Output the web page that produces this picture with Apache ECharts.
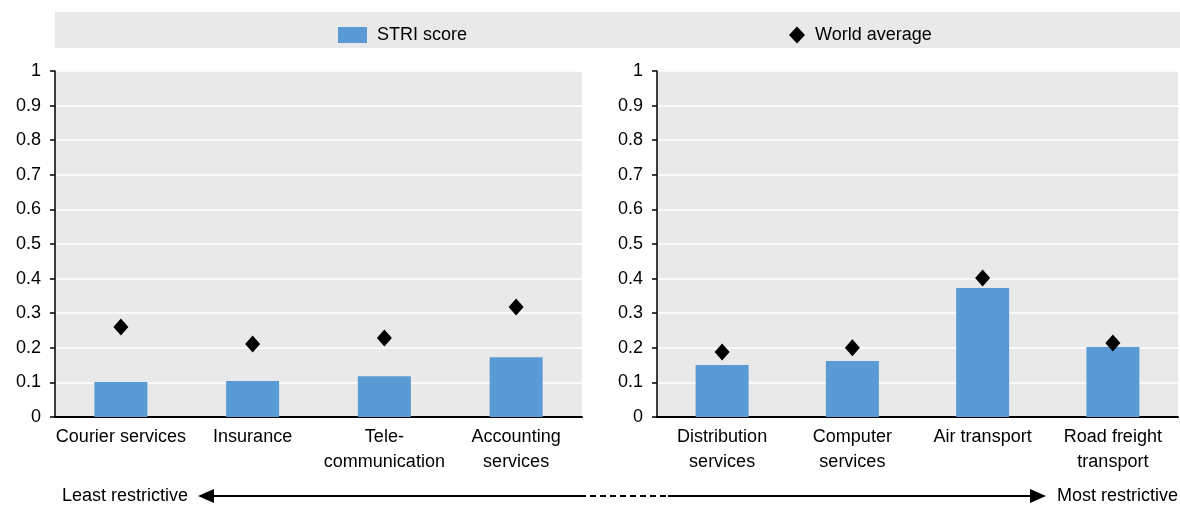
<!DOCTYPE html>
<html>
<head>
<meta charset="utf-8">
<script src="https://cdn.jsdelivr.net/npm/echarts@6/dist/echarts.min.js"></script>
<style>
html,body{margin:0;padding:0;background:#fff;}
#striChart{width:1180px;height:506px;}
</style>
</head>
<body>
<div id="striChart"></div>
<script>
// left panel
var leftCategories = ['Courier services', 'Insurance', 'Tele-\ncommunication', 'Accounting\nservices'];
var leftScore = [0.101, 0.104, 0.118, 0.173];
var leftAvg = [0.26, 0.211, 0.228, 0.318];
// right panel
var rightCategories = ['Distribution\nservices', 'Computer\nservices', 'Air transport', 'Road freight\ntransport'];
var rightScore = [0.15, 0.162, 0.373, 0.202];
var rightAvg = [0.188, 0.2, 0.402, 0.214];
var yTicks = [0, 1, 0.1]; // min, max, interval

var font = '"Liberation Sans Narrow", "Arial Narrow", "Liberation Sans", Arial, sans-serif';
var chart = echarts.init(document.getElementById('striChart'));

function yAxisCfg(idx){
  return {
    type: 'value', gridIndex: idx,
    min: yTicks[0], max: yTicks[1], interval: yTicks[2],
    axisLine: {show: true, lineStyle: {color: '#000', width: 1.5}},
    axisTick: {show: true, length: 5, lineStyle: {color: '#000', width: 1.5}},
    axisLabel: {color: '#000', fontFamily: font, fontSize: 18, margin: 14},
    splitLine: {lineStyle: {color: '#fff', width: 1.5}}
  };
}
function xAxisCfg(idx, data){
  return {
    type: 'category', gridIndex: idx, data: data,
    axisLine: {show: true, lineStyle: {color: '#000', width: 2}},
    axisTick: {show: false},
    axisLabel: {color: '#000', fontFamily: font, fontSize: 18, margin: 8, lineHeight: 25, interval: 0}
  };
}
function barSeries(idx, data){
  return {
    name: 'STRI score', type: 'bar', xAxisIndex: idx, yAxisIndex: idx,
    data: data, barWidth: 53, itemStyle: {color: '#5b9bd5'}, z: 2
  };
}
function avgSeries(idx, data){
  return {
    name: 'World average', type: 'scatter', xAxisIndex: idx, yAxisIndex: idx,
    data: data, symbol: 'diamond', symbolSize: [15, 17],
    itemStyle: {color: '#000', opacity: 1}, z: 3
  };
}

var arrowY = 496;
var option = {
  animation: false,
  grid: [
    {left: 55, top: 71, width: 527, height: 346, backgroundColor: '#e9e9e9', show: true, borderWidth: 0},
    {left: 657, top: 71, width: 521, height: 346, backgroundColor: '#e9e9e9', show: true, borderWidth: 0}
  ],
  legend: [
    {data: [{name: 'STRI score', icon: 'rect'}], left: 333, top: 21, itemWidth: 29, itemHeight: 16,
     textStyle: {fontFamily: font, fontSize: 18, color: '#000', padding: [0, 0, 0, 5]}},
    {data: [{name: 'World average', icon: 'diamond', itemStyle: {color: '#000', opacity: 1}}],
     left: 784, top: 21, itemWidth: 16, itemHeight: 17,
     textStyle: {fontFamily: font, fontSize: 18, color: '#000', padding: [0, 0, 0, 5]}}
  ],
  xAxis: [xAxisCfg(0, leftCategories), xAxisCfg(1, rightCategories)],
  yAxis: [yAxisCfg(0), yAxisCfg(1)],
  series: [barSeries(0, leftScore), avgSeries(0, leftAvg), barSeries(1, rightScore), avgSeries(1, rightAvg)],
  graphic: [
    // legend band
    {type: 'rect', left: 55, top: 12, shape: {width: 1125, height: 36}, style: {fill: '#e9e9e9'}, z: -10},
    // bottom arrow
    {type: 'line', shape: {x1: 212, y1: arrowY, x2: 580, y2: arrowY}, style: {stroke: '#000', lineWidth: 2}},
    {type: 'line', shape: {x1: 580, y1: arrowY, x2: 668, y2: arrowY}, style: {stroke: '#000', lineWidth: 2, lineDash: [6, 4]}},
    {type: 'line', shape: {x1: 668, y1: arrowY, x2: 1032, y2: arrowY}, style: {stroke: '#000', lineWidth: 2}},
    {type: 'polygon', shape: {points: [[198, arrowY], [214, arrowY - 7], [214, arrowY + 7]]}, style: {fill: '#000'}},
    {type: 'polygon', shape: {points: [[1046, arrowY], [1030, arrowY - 7], [1030, arrowY + 7]]}, style: {fill: '#000'}},
    {type: 'text', left: 62, top: arrowY - 9, style: {text: 'Least restrictive', fontFamily: font, fontSize: 18, fill: '#000'}},
    {type: 'text', left: 1057, top: arrowY - 9, style: {text: 'Most restrictive', fontFamily: font, fontSize: 18, fill: '#000'}}
  ]
};
chart.setOption(option);
</script>
</body>
</html>
